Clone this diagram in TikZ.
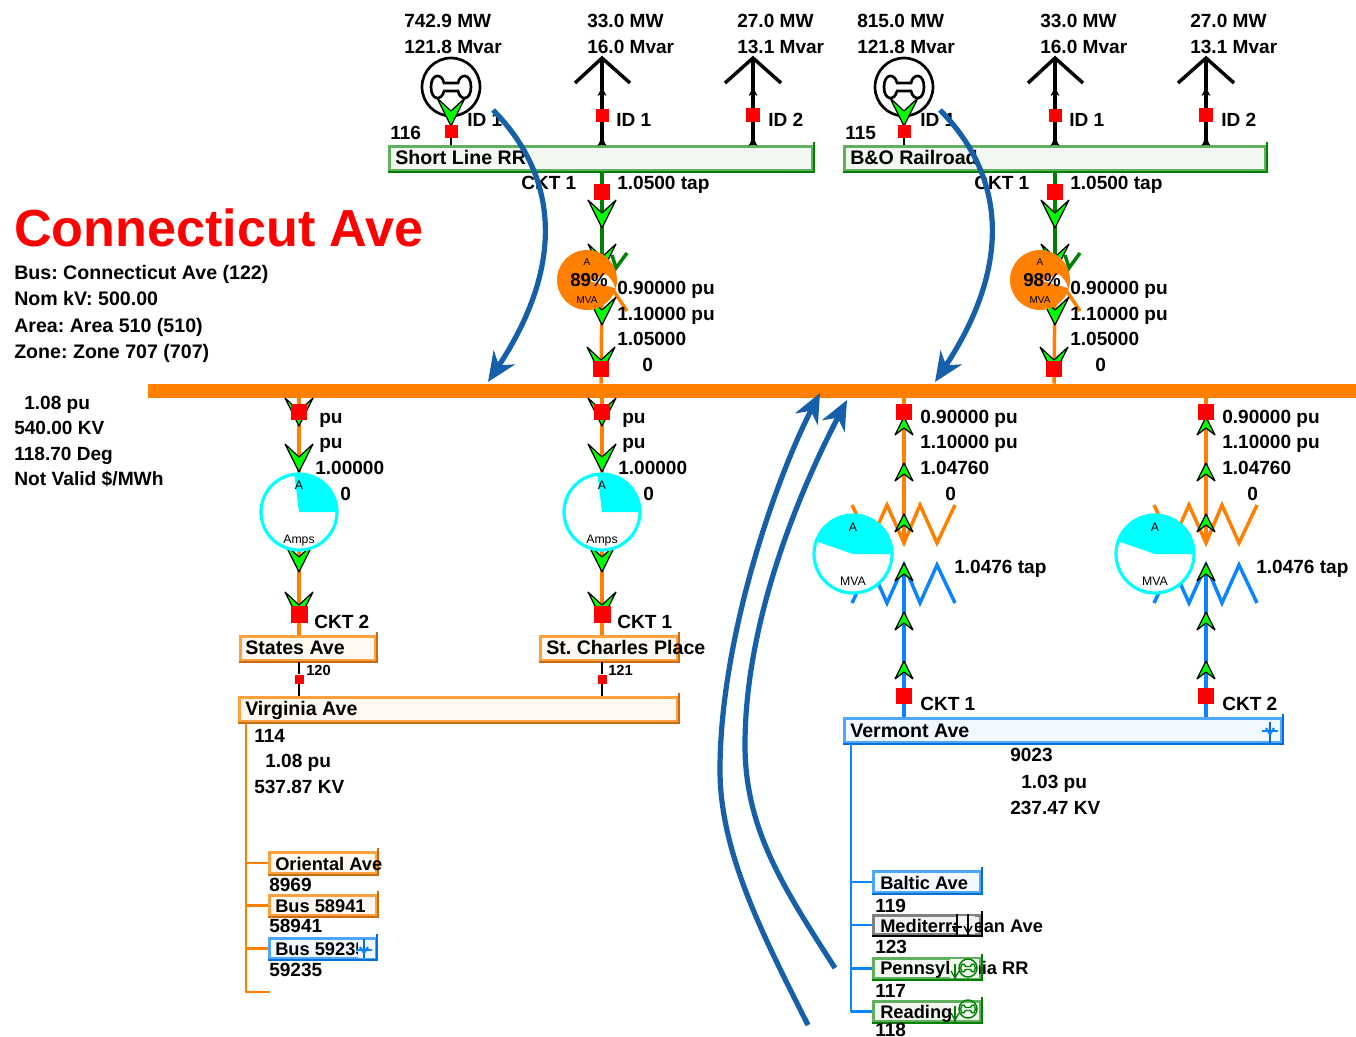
\documentclass[tikz,border=0pt]{standalone}
\usepackage{fontspec}
\setmainfont{Liberation Sans}
\newfontfamily\tfont{Liberation Sans Bold}
\usetikzlibrary{arrows.meta,calc}
\frenchspacing
\definecolor{orng}{HTML}{FF8000}
\definecolor{orngL}{HTML}{FFA040}
\definecolor{orngD}{HTML}{CC6A10}
\definecolor{orngF}{HTML}{FFF8F0}
\definecolor{grnL}{HTML}{008000}
\definecolor{grnT}{HTML}{60B060}
\definecolor{grnF}{HTML}{F2F8F0}
\definecolor{bluL}{HTML}{0A84FF}
\definecolor{bluT}{HTML}{4DA6FF}
\definecolor{bluD}{HTML}{0070D8}
\definecolor{bluF}{HTML}{F2F8FF}
\definecolor{gryT}{HTML}{808080}
\definecolor{gryF}{HTML}{F2F2F2}
\definecolor{flow}{HTML}{1560A8}
\definecolor{chevG}{HTML}{00FF00}
\definecolor{gauge}{HTML}{00FFFF}
\def\px{0.75pt}
\newcommand\fsn[1]{\fontsize{#1}{#1}\selectfont}
\newcommand\fs[1]{\tfont\fontsize{#1}{#1}\selectfont}
\tikzset{
  lbl/.style={anchor=west,inner sep=0pt,text height=10pt,text depth=0pt,font=\fs{14.3}},
  info/.style={lbl,font=\fs{14.7}},
  buslbl/.style={lbl,font=\fs{14.7}},
  sbuslbl/.style={lbl,font=\fs{13.7}},
  tiny/.style={anchor=center,inner sep=0pt,font=\fsn{9.2}},
  small/.style={lbl,text height=8pt,font=\fs{11}},
  rsq/.style={rectangle,fill=red,inner sep=0pt,minimum size=#1*\px},
  wire/.style={line width=2.6pt},
  thin wire/.style={line width=1.6pt},
  flowarrow/.style={draw=flow,line width=3.9pt,-{Stealth[length=22pt,width=19pt,inset=7pt]}},
  chev/.pic={\draw[fill=chevG,draw=black,line width=0.9pt,line join=bevel]
     (0,0) -- (-14,-28) -- (0,-15) -- (14,-28) -- cycle;},
  schev/.pic={\draw[fill=chevG,draw=black,line width=0.9pt,line join=bevel]
     (0,0) -- (-9,18) -- (0,11) -- (9,18) -- cycle;},
  bchev/.pic={\draw[fill=black,draw=black,line width=0.6pt]
     (0,0) -- (-3.5,7) -- (0,5) -- (3.5,7) -- cycle;}
}
\newcommand\busbox[8]{%
  \node[rectangle,inner sep=0pt,fill=#6,draw=#7,line width=2.2pt,
        minimum width={(#4-#2-3)*\px},minimum height={(#5-#3-3)*\px}] (#1) at ({(#2+#4)/2},{(#3+#5)/2}) {};
  \draw[draw=#8,line width=2.2pt] (#1.south west) -- (#1.south east) -- ([yshift=2pt]#1.north east);
}
\newcommand\dumb[5]{% x y scale color lw
  \draw[draw=#4,line width=#5,shift={(#1,#2)}]
    (-7*#3,-4*#3) .. controls (-9*#3,-14*#3) and (-20*#3,-14*#3) .. (-20*#3,0)
    .. controls (-20*#3,14*#3) and (-9*#3,14*#3) .. (-7*#3,4*#3) -- (7*#3,4*#3)
    .. controls (9*#3,14*#3) and (20*#3,14*#3) .. (20*#3,0)
    .. controls (20*#3,-14*#3) and (9*#3,-14*#3) .. (7*#3,-4*#3) -- cycle;
}
\newcommand\topgroup[7]{%
 \begin{scope}[shift={(#2,0)}]
  % generator
  \node[circle,draw=black,line width=2pt,inner sep=0pt,minimum size=58*\px,fill=white] (#1gen) at (451,87) {};
  \dumb{451}{87}{1}{black}{2pt}
  \node[rsq=13] (#1gs) at (451,131) {};
  \draw[thin wire,black] (#1gs) -- (#1gs |- #3.north);
  \pic at (451,126) {chev};
  \node[rsq=13] (#1gs2) at (451,131) {};
  \node[lbl] (#1genmw) at (404,21) {#4};
  \node[lbl] (#1genmv) at (404,47) {121.8 Mvar};
  \node[lbl] (#1genid) at (467,120) {ID 1};
  % loads
  \node[rsq=13] (#1la) at (602,115) {};
  \node[rsq=14] (#1lb) at (753,115) {};
  \coordinate (#1lat) at (602,58);
  \coordinate (#1lbt) at (753,58);
  \draw[wire,black] (#1lat |- #3.north) -- (#1lat);
  \draw[wire,black] (#1lbt |- #3.north) -- (#1lbt);
  \draw[wire,black,line join=miter] (575,83) -- (#1lat) -- (630,83);
  \draw[wire,black,line join=miter] (725,83) -- (#1lbt) -- (781,83);
  \pic at (602,88) {bchev}; \pic at (602,138) {bchev};
  \pic at (753,88) {bchev}; \pic at (753,138) {bchev};
  \node[rsq=13] (#1la2) at (602,115) {};
  \node[rsq=14] (#1lb2) at (753,115) {};
  \node[lbl] (#1lamw) at (587,21) {33.0 MW};
  \node[lbl] (#1lamv) at (587,47) {16.0 Mvar};
  \node[lbl] (#1lbmw) at (737,21) {27.0 MW};
  \node[lbl] (#1lbmv) at (737,47) {13.1 Mvar};
  \node[lbl] (#1laid) at (616,120) {ID 1};
  \node[lbl] (#1lbid) at (768,120) {ID 2};
  % transformer
  \node[rsq=16] (#1ts) at (602,192) {};
  \node[rsq=16] (#1bs) at (601,369) {};
  \coordinate (#1mid) at (602,285);
  \draw[wire,grnL] (#1ts |- #3.south) -- (#1mid);
  \draw[wire,orng] (#1mid) -- (#1bs |- mainbus.north);
  \draw[wire,grnL,line join=miter] (612,255) -- (616,268) -- (627,253);
  \draw[wire,orng] (613,290) -- (627,311);
  \pic at (602,228) {chev};
  \pic at (602,272) {chev};
  \pic at (602,325) {chev};
  \pic at (601,375) {chev};
  \node[rsq=16] (#1ts2) at (602,192) {};
  \node[rsq=16] (#1bs2) at (601,369) {};
  \node[circle,fill=orng,inner sep=0pt,minimum size=60*\px] (#1pie) at (587,280) {};
  \fill[white] (590,281) -- ++(25,7) arc[start angle=-15,end angle=-52,radius=26] -- cycle;
  \node[tiny,font=\fsn{7.5}] (#1pa) at (587,262) {A};
  \node[tiny,font=\fsn{7.5}] (#1pm) at (587,300) {MVA};
  \node[anchor=center,inner sep=0pt,font=\tfont\fsn{14}] (#1pp) at (589,280) {#6};
  \node[lbl] (#1ckt) at (521,183) {CKT 1};
  \node[lbl] (#1tap) at (617,183) {1.0500 tap};
  \node[lbl] (#1v1) at (617,288) {0.90000 pu};
  \node[lbl] (#1v2) at (617,314) {1.10000 pu};
  \node[lbl] (#1v3) at (617,339) {1.05000};
  \node[lbl] (#1v4) at (642,365) {0};
 \end{scope}
}
\newcommand\leftfeeder[4]{%
  \node[rsq=16] (#1a) at (#2,412) {};
  \node[rsq=17] (#1b) at (#2,614) {};
  \draw[wire,orng] (#1a |- mainbus.south) -- (#1b |- #3.north);
  \pic at (#2,426) {chev};
  \node[rsq=16] (#1a2) at (#2,412) {};
  \pic at (#2,472) {chev};
  \pic at (#2,572) {chev};
  \pic at (#2,620) {chev};
  \node[rsq=17] (#1b2) at (#2,614) {};
  \node[circle,fill=white,draw=gauge,line width=2.4pt,inner sep=0pt,minimum size=76*\px] (#1g) at (#2,512) {};
  \fill[gauge] (#2,512) -- ++(38,0) arc[start angle=0,end angle=-97,radius=38] -- cycle;
  \node[tiny] (#1gA) at (#2,485) {A};
  \node[tiny] (#1gB) at (#2,541) {Amps};
  \node[lbl] (#1t1) at ($(#2,417)+(20,0)$) {pu};
  \node[lbl] (#1t2) at ($(#2,442)+(20,0)$) {pu};
  \node[lbl] (#1t3) at ($(#2,468)+(16,0)$) {1.00000};
  \node[lbl] (#1t4) at ($(#2,494)+(41,0)$) {0};
  \node[lbl] (#1c) at ($(#2,622)+(15,0)$) {#4};
}
\newcommand\rightfeeder[3]{%
 \begin{scope}[shift={(#2,0)}]
  \node[rsq=16] (#1a) at (904,412) {};
  \node[rsq=16] (#1b) at (904,696) {};
  \coordinate (#1u) at (904,540);
  \coordinate (#1l) at (904,565);
  \draw[wire,orng] (#1a |- mainbus.south) -- (#1u);
  \draw[wire,bluL] (#1l) -- (#1b |- vermont.north);
  \draw[wire,orng,line join=miter] (852,505) -- (870,543) -- (887,505) -- (904,543) -- (920,505) -- (937,543) -- (955,505);
  \draw[wire,bluL,line join=miter] (852,603) -- (870,565) -- (887,603) -- (904,565) -- (920,603) -- (937,565) -- (955,603);
  \pic at (904,417) {schev};
  \pic at (904,463) {schev};
  \pic at (904,514) {schev};
  \pic at (904,563) {schev};
  \pic at (904,612) {schev};
  \pic at (904,661) {schev};
  \node[rsq=16] (#1a2) at (904,412) {};
  \node[rsq=16] (#1b2) at (904,696) {};
  \node[circle,fill=white,draw=gauge,line width=2.4pt,inner sep=0pt,minimum size=78*\px] (#1g) at (853,554) {};
  \fill[gauge] (853,554) -- ++(39,0) arc[start angle=0,end angle=-161,radius=39] -- cycle;
  \node[tiny] (#1gA) at (853,527) {A};
  \node[tiny] (#1gB) at (853,581) {MVA};
  \node[lbl] (#1t1) at (920,417) {0.90000 pu};
  \node[lbl] (#1t2) at (920,442) {1.10000 pu};
  \node[lbl] (#1t3) at (920,468) {1.04760};
  \node[lbl] (#1t4) at (945,494) {0};
  \node[lbl] (#1tap) at (954,567) {1.0476 tap};
  \node[lbl] (#1c) at (920,704) {#3};
 \end{scope}
}
\begin{document}
\begin{tikzpicture}[x=0.75pt,y=-0.75pt]
\useasboundingbox (0,0) rectangle (1356,1036);
\fill[white] (0,0) rectangle (1356,1036);

% main bus
\node[rectangle,fill=orng,inner sep=0pt,minimum width=1208*\px,minimum height=14*\px] (mainbus) at (752,391) {};

% title and info
\node[anchor=west,inner sep=0pt,text=red,font=\tfont\fsn{39.1}] (title) at (14,228) {Connecticut Ave};
\node[info] (i1) at (14,273) {Bus: Connecticut Ave (122)};
\node[info] (i2) at (14,299) {Nom kV: 500.00};
\node[info] (i3) at (14,326) {Area: Area 510 (510)};
\node[info] (i4) at (14,352) {Zone: Zone 707 (707)};
\node[lbl] (i5) at (24,403) {1.08 pu};
\node[lbl] (i6) at (14,428) {540.00 KV};
\node[lbl] (i7) at (14,454) {118.70 Deg};
\node[info,font=\fs{14.4}] (i8) at (14,479) {Not Valid \$/MWh};

% top buses
\busbox{shortline}{388}{145}{814}{172}{grnF}{grnT}{grnL}
\busbox{bando}{843}{145}{1267}{172}{grnF}{grnT}{grnL}
\node[buslbl] (shortlbl) at (395,158) {Short Line RR};
\node[buslbl] (bandolbl) at (850,158) {B\&O Railroad};
\node[lbl] (n116) at (390,133) {116};
\node[lbl] (n115) at (845,133) {115};
\topgroup{A}{0}{shortline}{742.9 MW}{116}{89\%}{}
\topgroup{B}{453}{bando}{815.0 MW}{115}{98\%}{}

% left lower buses
\busbox{states}{239}{635}{377}{662}{orngF}{orngL}{orngD}
\busbox{charles}{539}{635}{679}{662}{orngF}{orngL}{orngD}
\busbox{virginia}{238}{696}{679}{723}{orngF}{orngL}{orngD}
\node[buslbl] (stateslbl) at (245,648) {States Ave};
\node[buslbl] (charleslbl) at (546,648) {St. Charles Place};
\node[buslbl] (virginialbl) at (245,709) {Virginia Ave};
\leftfeeder{L}{299}{states}{CKT 2}
\leftfeeder{M}{602}{charles}{CKT 1}
\node[rsq=9] (tie1) at (299,679) {};
\node[rsq=9] (tie2) at (602,679) {};
\draw[thin wire,black] (tie1 |- states.south) -- (tie1) -- (tie1 |- virginia.north);
\draw[thin wire,black] (tie2 |- charles.south) -- (tie2) -- (tie2 |- virginia.north);
\node[rsq=9] (tie1b) at (299,679) {};
\node[rsq=9] (tie2b) at (602,679) {};
\node[small] (n120) at (306,670) {120};
\node[small] (n121) at (608,670) {121};

% Virginia sub-list
\coordinate (vtop) at (246,723);
\coordinate (vbot) at (246,992);
\coordinate (vend) at (270,992);
\busbox{oriental}{268}{851}{378}{875}{orngF}{orngL}{orngD}
\busbox{bus58}{268}{894}{378}{917}{orngF}{orngL}{orngD}
\busbox{bus59}{268}{937}{377}{960}{bluF}{bluT}{bluD}
\draw[thin wire,orng] (vtop) -- (vbot) -- (vend);
\draw[thin wire,orng] (vtop |- oriental.west) -- (oriental.west);
\draw[thin wire,orng] (vtop |- bus58.west) -- (bus58.west);
\draw[thin wire,orng] (vtop |- bus59.west) -- (bus59.west);
\node[lbl] (n114) at (254,736) {114};
\node[lbl] (v114a) at (265,761) {1.08 pu};
\node[lbl] (v114b) at (254,787) {537.87 KV};
\node[sbuslbl] (orientallbl) at (275,864) {Oriental Ave};
\node[lbl] (n8969) at (269,885) {8969};
\node[sbuslbl] (bus58lbl) at (275,906) {Bus 58941};
\node[lbl] (n58941) at (269,926) {58941};
\node[sbuslbl] (bus59lbl) at (275,949) {Bus 59235};
\fill[bluF] (358,940) rectangle (375,958);
\draw[thin wire,bluD] (364,939) -- (364,958);
\draw[thin wire,bluL] (356,950) -- (372,950);
\draw[thin wire,bluL] (360,947) -- (364,953) -- (368,947);
\node[lbl] (n59235) at (269,970) {59235};

% right feeders and Vermont bus
\busbox{vermont}{843}{717}{1283}{744}{bluF}{bluT}{bluD}
\node[buslbl] (vermontlbl) at (850,731) {Vermont Ave};
\draw[thin wire,bluL] (1262,731) -- (1278,731);
\draw[thin wire,bluD] (1270,722) -- (1270,743);
\draw[thin wire,bluL] (1266,728) -- (1270,734) -- (1274,728);
\rightfeeder{R}{0}{CKT 1}
\rightfeeder{S}{302}{CKT 2}
\node[lbl] (n9023) at (1010,755) {9023};
\node[lbl] (v9023a) at (1021,782) {1.03 pu};
\node[lbl] (v9023b) at (1010,808) {237.47 KV};

% Vermont sub-list
\coordinate (wtop) at (851,744);
\coordinate (wbot) at (851,1012);
\busbox{baltic}{872}{870}{982}{894}{bluF}{bluT}{bluD}
\busbox{medit}{872}{914}{982}{936}{gryF}{gryT}{black}
\busbox{penn}{872}{957}{982}{980}{grnF}{grnT}{grnL}
\busbox{reading}{872}{1000}{982}{1023}{grnF}{grnT}{grnL}
\draw[thin wire,bluL] (wtop) -- (wbot);
\draw[thin wire,bluL] (wtop |- baltic.west) -- (baltic.west);
\draw[thin wire,bluL] (wtop |- medit.west) -- (medit.west);
\draw[thin wire,bluL] (wtop |- penn.west) -- (penn.west);
\draw[thin wire,bluL] (wtop |- reading.west) -- (reading.west);
\node[sbuslbl] (balticlbl) at (880,883) {Baltic Ave};
\node[lbl] (n119) at (875,906) {119};
\node[sbuslbl] (meditlbl) at (880,926) {Mediterranean Ave};
\fill[gryF] (957,916) rectangle (975,934);
\draw[line width=1.2pt,black] (957,914) -- (957,936);
\draw[line width=1.2pt,black] (968,914) -- (968,936);
\draw[line width=1pt,black] (952,927) -- (962,927);
\draw[line width=1pt,black] (964,926) -- (968,933) -- (972,926);
\node[lbl] (n123) at (875,947) {123};
\node[sbuslbl] (pennlbl) at (880,968) {Pennsylvania RR};
\fill[grnF] (950,959) rectangle (979,978);
\draw[line width=1.2pt,grnL] (955,964) -- (955,980);
\draw[line width=1pt,grnL] (951,971) -- (955,978) -- (959,971);
\node[circle,draw=grnL,line width=1.1pt,inner sep=0pt,minimum size=18*\px] (pgen) at (968,968) {};
\dumb{968}{968}{0.36}{grnL}{1pt}
\node[lbl] (n117) at (875,991) {117};
\node[sbuslbl] (readinglbl) at (880,1012) {Reading};
\draw[line width=1.2pt,grnL] (955,1006) -- (955,1023);
\draw[line width=1pt,grnL] (951,1013) -- (955,1020) -- (959,1013);
\node[circle,draw=grnL,line width=1.1pt,inner sep=0pt,minimum size=18*\px] (rgen) at (968,1009) {};
\dumb{968}{1009}{0.36}{grnL}{1pt}
\node[lbl] (n118) at (875,1030) {118};

% flow arrows
\coordinate (f1s) at (493,110);
\coordinate (f1e) at (488,382);
\coordinate (f2s) at (940,110);
\coordinate (f2e) at (935,382);
\coordinate (f3s) at (808,1025);
\coordinate (f3m) at (720,770);
\coordinate (f3e) at (820,393);
\coordinate (f4s) at (835,968);
\coordinate (f4m) at (745,745);
\coordinate (f4e) at (847,400);
\draw[flowarrow] (f1s) .. controls (562,180) and (562,270) .. (f1e);
\draw[flowarrow] (f2s) .. controls (1009,180) and (1009,270) .. (f2e);
\draw[flowarrow] (f3s) .. controls (760,930) and (720,850) .. (f3m) .. controls (720,640) and (775,480) .. (f3e);
\draw[flowarrow] (f4s) .. controls (785,890) and (745,830) .. (f4m) .. controls (745,620) and (800,490) .. (f4e);
\end{tikzpicture}
\end{document}
